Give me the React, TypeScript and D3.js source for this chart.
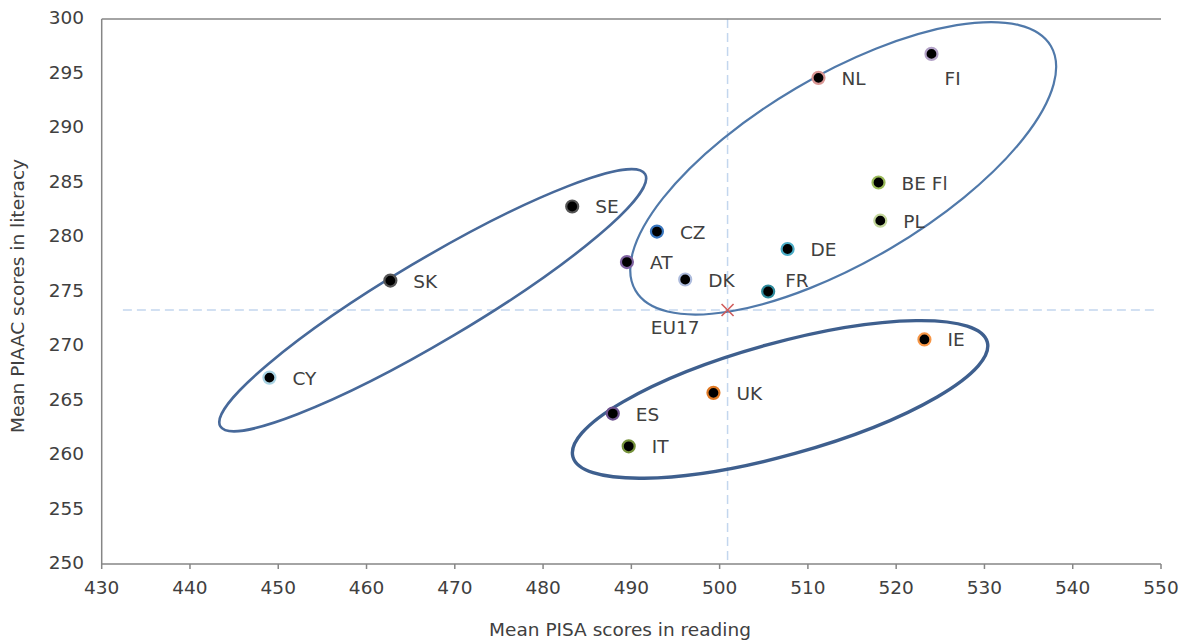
import React from "react";
import * as d3 from "d3";

const countries = ["CY", "SK", "SE", "CZ", "AT", "DK", "FR", "DE", "NL", "FI", "BE Fl", "PL", "IE", "UK", "ES", "IT"];
const pisaReading = [449.0, 462.7, 483.3, 492.9, 489.5, 496.1, 505.5, 507.7, 511.2, 524.0, 518.0, 518.2, 523.2, 499.3, 487.9, 489.7];
const piaacLiteracy = [267.1, 276.0, 282.8, 280.5, 277.7, 276.1, 275.0, 278.9, 294.6, 296.8, 285.0, 281.5, 270.6, 265.7, 263.8, 260.8];
const markerColors = ["#a9d3e3", "#555555", "#555555", "#3b78c0", "#8064a2", "#aebcdd", "#2e8a9c", "#4bacc6", "#d99694", "#b3a2c7", "#9bbb59", "#c3d69b", "#f79646", "#e07a25", "#6f5490", "#77933c"];

const euLabel = "EU17";
const euPisa = 500.9;
const euPiaac = 273.3;

const xTicks = [430, 440, 450, 460, 470, 480, 490, 500, 510, 520, 530, 540, 550];
const yTicks = [250, 255, 260, 265, 270, 275, 280, 285, 290, 295, 300];

// group ellipses (annotations): center in data units
const ellipseCx = [467.5, 514.0, 506.85];
const ellipseCy = [274.2, 286.3, 265.1];

const W = 1188;
const H = 642;
const plotLeft = 101.7;
const plotRight = 1161;
const plotTop = 19;
const plotBottom = 564;

const FONT = "'DejaVu Sans', Verdana, sans-serif";

export default function App() {
  const x = d3.scaleLinear().domain([430, 550]).range([plotLeft, plotRight]);
  const y = d3.scaleLinear().domain([250, 300]).range([plotBottom, plotTop]);

  const ellipseStyles = [
    { rx: 247, ry: 41, angle: -30.7, stroke: "#47699a", width: 2.6 },
    { rx: 241, ry: 93, angle: -30.5, stroke: "#5079aa", width: 2.2 },
    { rx: 215, ry: 56, angle: -15.5, stroke: "#3e5f8e", width: 3.4 },
  ];

  const labelOffsets: Record<string, [number, number]> = {
    FR: [17, -10],
    FI: [13, 26],
  };

  const ex = x(euPisa);
  const ey = y(euPiaac);

  return (
    <svg width={W} height={H} style={{ position: "absolute", left: 0, top: 0, background: "#fff" }} fontFamily={FONT}>
      {/* reference dashed lines */}
      <line x1={ex} x2={ex} y1={plotTop} y2={plotBottom} stroke="#c3d6ee" strokeWidth={1.5} strokeDasharray="9,5" />
      <line x1={x(432.4)} x2={x(549.6)} y1={ey} y2={ey} stroke="#c3d6ee" strokeWidth={1.5} strokeDasharray="9,5" />

      {/* axes */}
      <line x1={plotLeft} x2={plotRight} y1={plotTop} y2={plotTop} stroke="#868686" strokeWidth={1.5} />
      <line x1={plotLeft} x2={plotLeft} y1={plotTop} y2={plotBottom} stroke="#868686" strokeWidth={1.5} />
      <line x1={plotLeft} x2={plotRight} y1={plotBottom} y2={plotBottom} stroke="#868686" strokeWidth={1.5} />
      {xTicks.map((t) => (
        <g key={"xt" + t}>
          <line x1={x(t)} x2={x(t)} y1={plotBottom} y2={plotBottom + 5} stroke="#868686" strokeWidth={1.5} />
          <text x={x(t)} y={plotBottom + 25} textAnchor="middle" fontSize={18.5} fill="#404040" dominantBaseline="middle">
            {t}
          </text>
        </g>
      ))}
      {yTicks.map((t) => (
        <text key={"yt" + t} x={84} y={y(t)} textAnchor="end" fontSize={18.5} fill="#404040" dominantBaseline="middle">
          {t}
        </text>
      ))}
      <text x={620} y={631} textAnchor="middle" fontSize={18.5} fill="#404040" dominantBaseline="middle">
        Mean PISA scores in reading
      </text>
      <text transform={`translate(19,296) rotate(-90)`} textAnchor="middle" fontSize={18.5} fill="#404040" dominantBaseline="middle">
        Mean PIAAC scores in literacy
      </text>

      {/* ellipses */}
      {ellipseCx.map((cx, i) => {
        const s = ellipseStyles[i];
        const px = x(cx);
        const py = y(ellipseCy[i]);
        return (
          <ellipse
            key={"el" + i}
            cx={0}
            cy={0}
            rx={s.rx}
            ry={s.ry}
            transform={`translate(${px},${py}) rotate(${s.angle})`}
            fill="none"
            stroke={s.stroke}
            strokeWidth={s.width}
          />
        );
      })}

      {/* points */}
      {countries.map((c, i) => (
        <circle key={"pt" + c} cx={x(pisaReading[i])} cy={y(piaacLiteracy[i])} r={6} fill="#000" stroke={markerColors[i]} strokeWidth={2.2} />
      ))}
      {countries.map((c, i) => {
        const off = labelOffsets[c] || [23, 2];
        return (
          <text key={"lb" + c} x={x(pisaReading[i]) + off[0]} y={y(piaacLiteracy[i]) + off[1]} fontSize={18.5} fill="#404040" dominantBaseline="middle">
            {c}
          </text>
        );
      })}

      {/* EU17 marker */}
      <g stroke="#d05c5a" strokeWidth={1.6}>
        <line x1={ex - 6} x2={ex + 6} y1={ey - 6} y2={ey + 6} />
        <line x1={ex - 6} x2={ex + 6} y1={ey + 6} y2={ey - 6} />
      </g>
      <text x={ex - 28} y={ey + 19} textAnchor="end" fontSize={18.5} fill="#404040" dominantBaseline="middle">
        {euLabel}
      </text>
    </svg>
  );
}
